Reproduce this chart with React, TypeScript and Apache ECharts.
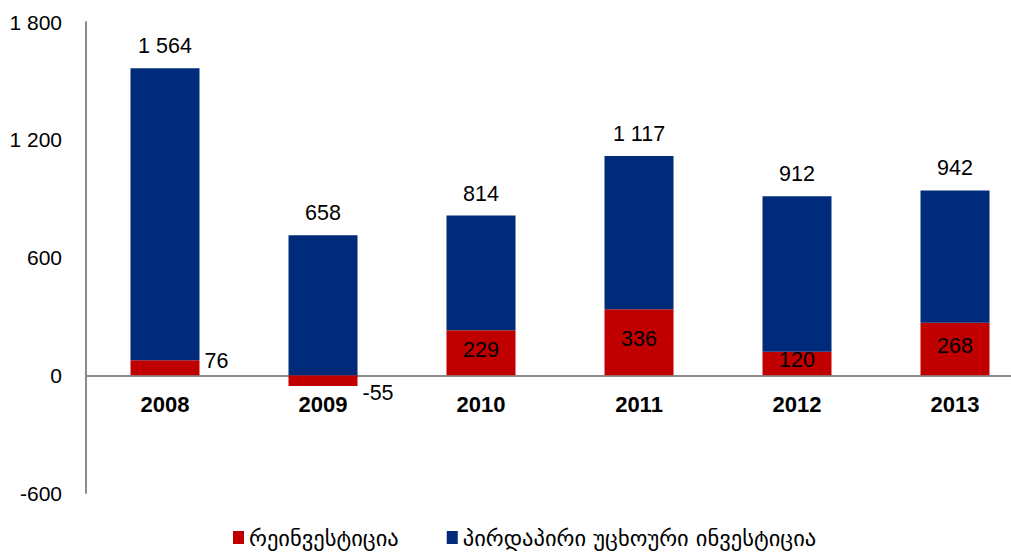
import React, { useEffect, useRef } from "react";
import * as echarts from "echarts";

const categories = ["2008", "2009", "2010", "2011", "2012", "2013"];
const reinvestment = [76, -55, 229, 336, 120, 268];
const fdiPart = [1488, 713, 585, 781, 792, 674];
const totals = [1564, 658, 814, 1117, 912, 942];
const seriesNames = ["რეინვესტიცია", "პირდაპირი უცხოური ინვესტიცია"];

const fmt = (v: number) => {
  const s = Math.abs(v).toString().replace(/\B(?=(\d{3})+(?!\d))/g, " ");
  return (v < 0 ? "-" : "") + s;
};

export default function App() {
  const ref = useRef<HTMLDivElement>(null);
  useEffect(() => {
    const chart = echarts.init(ref.current!, null, { renderer: "svg" });
    const redData = reinvestment.map((v, i) => {
      if (i === 0) {
        return { value: v, label: { position: "right", offset: [0, -7] } };
      }
      if (i === 1) {
        return { value: v, label: { position: "right", offset: [0, 12] } };
      }
      return { value: v, label: { position: "inside", offset: [0, -3] } };
    });
    chart.setOption({
      animation: false,
      grid: { left: 86, top: 22, width: 948, bottom: 61, containLabel: false },
      legend: {
        bottom: 0,
        left: 228,
        itemWidth: 11,
        itemHeight: 13,
        itemGap: 48,
        icon: "rect",
        textStyle: { fontFamily: "DejaVu Sans", fontSize: 22.5, color: "#000" },
        data: seriesNames,
      },
      xAxis: {
        type: "category",
        data: categories,
        axisLine: { onZero: true, lineStyle: { color: "#8c8c8c", width: 2 } },
        axisTick: { show: false },
        axisLabel: {
          fontFamily: "Arial, Liberation Sans",
          fontWeight: "bold",
          fontSize: 22,
          color: "#000",
          margin: -100,
        },
      },
      yAxis: {
        type: "value",
        min: -600,
        max: 1800,
        interval: 600,
        splitLine: { show: false },
        axisLine: { show: true, lineStyle: { color: "#8c8c8c", width: 2 } },
        axisTick: { show: false },
        axisLabel: {
          fontFamily: "Arial, Liberation Sans",
          fontSize: 21,
          color: "#000",
          margin: 24,
          formatter: (v: number) => fmt(v),
        },
      },
      series: [
        {
          name: seriesNames[0],
          type: "bar",
          stack: "s",
          barWidth: 69,
          itemStyle: { color: "#c00000" },
          label: {
            show: true,
            fontFamily: "Arial, Liberation Sans",
            fontSize: 21.5,
            color: "#000",
            formatter: (p: any) => fmt(p.value),
          },
          data: redData,
        },
        {
          name: seriesNames[1],
          type: "bar",
          stack: "s",
          barWidth: 69,
          itemStyle: { color: "#002a7a" },
          label: {
            show: true,
            position: "top",
            distance: 11,
            fontFamily: "Arial, Liberation Sans",
            fontSize: 21.5,
            color: "#000",
            formatter: (p: any) => fmt(totals[p.dataIndex]),
          },
          data: fdiPart,
        },
      ],
    });
    return () => chart.dispose();
  }, []);
  return (
    <div style={{ width: 1011, height: 554, position: "absolute", left: 0, top: 0, overflow: "hidden" }}>
      <div ref={ref} style={{ width: 1040, height: 554 }} />
    </div>
  );
}
